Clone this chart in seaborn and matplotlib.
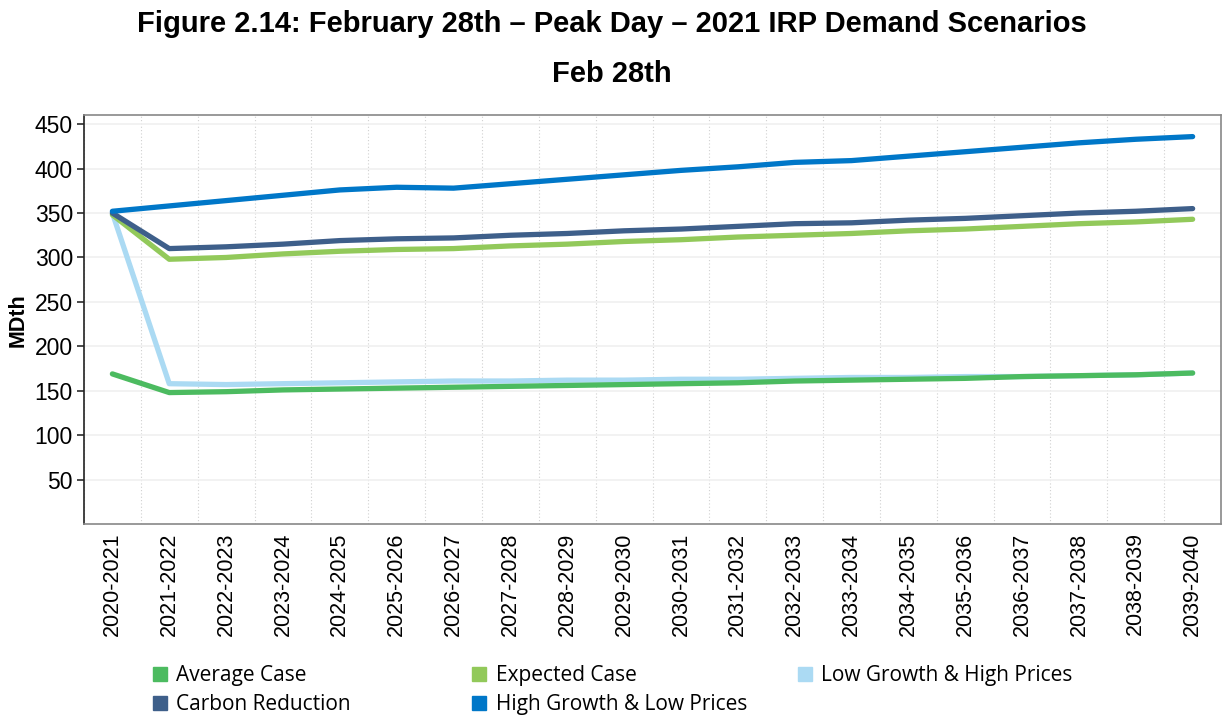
import pandas as pd
import numpy as np
import seaborn as sns
import matplotlib.pyplot as plt
from matplotlib.lines import Line2D
from matplotlib.ticker import FixedLocator

# ---------- data ----------
years = ["2020-2021", "2021-2022", "2022-2023", "2023-2024", "2024-2025",
         "2025-2026", "2026-2027", "2027-2028", "2028-2029", "2029-2030",
         "2030-2031", "2031-2032", "2032-2033", "2033-2034", "2034-2035",
         "2035-2036", "2036-2037", "2037-2038", "2038-2039", "2039-2040"]

average_case = [169, 148, 149, 151, 152, 153, 154, 155, 156, 157,
                158, 159, 161, 162, 163, 164, 166, 167, 168, 170]
expected_case = [348, 298, 300, 304, 307, 309, 310, 313, 315, 318,
                 320, 323, 325, 327, 330, 332, 335, 338, 340, 343]
low_growth = [350, 158, 157, 158, 159, 160, 161, 161, 162, 162,
              163, 163, 164, 165, 165, 166, 166, 167, 168, 170]
carbon_reduction = [350, 310, 312, 315, 319, 321, 322, 325, 327, 330,
                    332, 335, 338, 339, 342, 344, 347, 350, 352, 355]
high_growth = [352, 358, 364, 370, 376, 379, 378, 383, 388, 393,
               398, 402, 407, 409, 414, 419, 424, 429, 433, 436]

series = {
    "Average Case": average_case,
    "Expected Case": expected_case,
    "Low Growth & High Prices": low_growth,
    "Carbon Reduction": carbon_reduction,
    "High Growth & Low Prices": high_growth,
}
colors = {
    "Average Case": "#4cbb60",
    "Expected Case": "#92c95a",
    "Low Growth & High Prices": "#abdaf3",
    "Carbon Reduction": "#3e5f8a",
    "High Growth & Low Prices": "#0077c8",
}
# drawing order (last on top)
draw_order = ["Low Growth & High Prices", "Average Case", "Expected Case",
              "Carbon Reduction", "High Growth & Low Prices"]

df = pd.DataFrame([
    {"year": y, "scenario": name, "MDth": v}
    for name, vals in series.items() for y, v in zip(years, vals)
])

# ---------- plot ----------
sns.set_theme(style="white")
plt.rcParams["font.family"] = ["Liberation Sans", "DejaVu Sans"]
plt.rcParams["text.color"] = "black"
plt.rcParams["axes.labelcolor"] = "black"
plt.rcParams["xtick.color"] = "black"
plt.rcParams["ytick.color"] = "black"

fig = plt.figure(figsize=(12.24, 7.16), dpi=100)
ax = fig.add_axes([0.0686, 0.268, 0.929, 0.571])

sns.lineplot(data=df, x="year", y="MDth", hue="scenario",
             hue_order=draw_order, palette=colors, linewidth=3.8,
             solid_capstyle="round", legend=False, ax=ax, sort=False)

ax.set_xlim(-0.5, len(years) - 0.5)
ax.set_ylim(0, 460)
ax.set_yticks(range(50, 451, 50))
ax.set_xticks(range(len(years)))
ax.set_xticklabels(years, rotation=90, fontsize=15.5)
ax.tick_params(axis="x", which="major", length=0, pad=6)
ax.xaxis.set_minor_locator(FixedLocator(np.arange(-0.5, len(years), 1)))
ax.tick_params(axis="x", which="minor", length=5, color="#333333", direction="out")
ax.tick_params(axis="y", labelsize=16.5, length=5, color="#333333",
               direction="out", left=True, pad=3)

ax.grid(axis="y", color="#f0f0f0", linewidth=1.2, linestyle="-")
ax.grid(axis="x", which="minor", color="#d0d0d0", linewidth=0.8, linestyle=(0, (1, 2)))
ax.set_axisbelow(True)

for s in ["top", "right", "bottom"]:
    ax.spines[s].set_color("#888888")
    ax.spines[s].set_linewidth(1.2)
ax.spines["left"].set_color("#222222")
ax.spines["left"].set_linewidth(1.2)

ax.set_xlabel("")
ax.set_ylabel("MDth", fontsize=15.5, fontweight="bold", labelpad=4)

fig.text(0.5, 0.966, "Figure 2.14: February 28th \u2013 Peak Day \u2013 2021 IRP Demand Scenarios",
         ha="center", va="center", fontsize=21, fontweight="bold")
fig.text(0.5, 0.897, "Feb 28th", ha="center", va="center",
         fontsize=21, fontweight="bold")

# ---------- legend: three fixed-width columns ----------
columns = [["Average Case", "Carbon Reduction"],
           ["Expected Case", "High Growth & Low Prices"],
           ["Low Growth & High Prices"]]
col_x = [0.115, 0.376, 0.642]
for cx, names in zip(col_x, columns):
    handles = [Line2D([], [], marker="s", linestyle="", markersize=10,
                      color=colors[n]) for n in names]
    fig.legend(handles, names, loc="upper left", bbox_to_anchor=(cx, 0.083),
               frameon=False, handletextpad=0.3, labelspacing=0.4,
               borderaxespad=0, handlelength=1.0,
               prop={"family": ["Open Sans", "DejaVu Sans"], "size": 15})

fig.savefig("out.png", dpi=100)
